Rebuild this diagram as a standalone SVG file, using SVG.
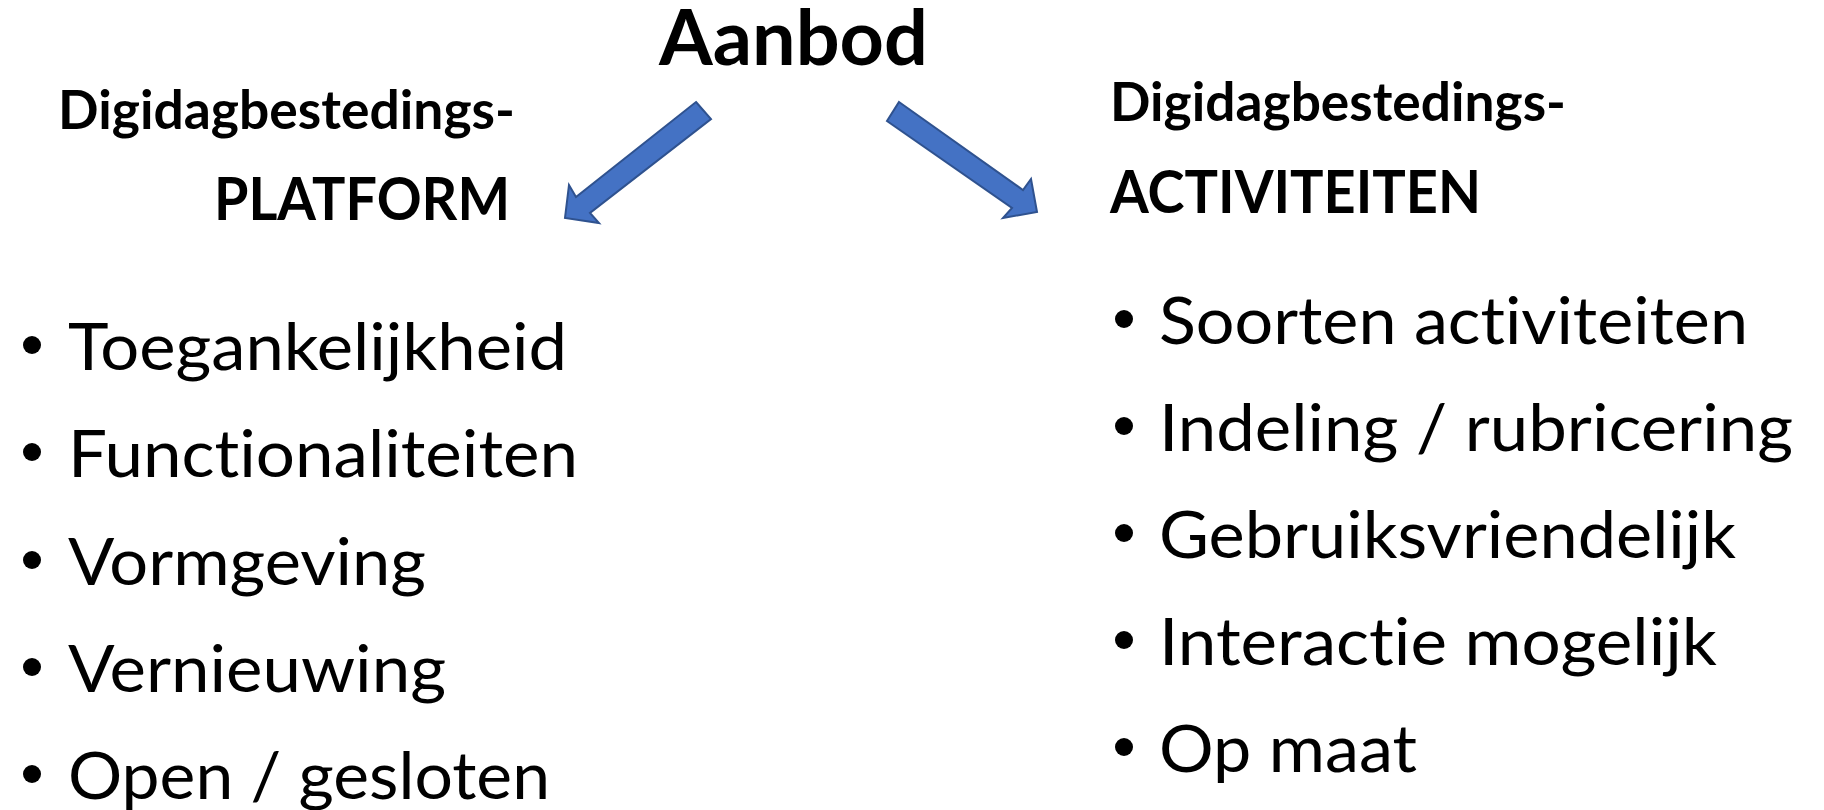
<svg xmlns="http://www.w3.org/2000/svg" width="1824" height="810" viewBox="0 0 1824 810">
  <style>
    text { font-family: Lato, "Open Sans", "Liberation Sans", sans-serif; fill: #000; font-variant-ligatures: none; font-feature-settings: "liga" 0, "clig" 0; }
    .title { font-size: 77px; font-weight: 700; }
    .sub { font-size: 53px; font-weight: 700; }
    .head { font-size: 59px; font-weight: 700; }
    .item { font-size: 66px; font-weight: 400; }
    .bullet { fill: #000; }
    .arrow { fill: #4472C4; stroke: #2F528F; stroke-width: 2; stroke-linejoin: miter; }
  </style>
  <rect width="1824" height="810" fill="#FFFFFF"/>

  <g id="connectors">
    <polygon class="arrow" points="696,102 711,119 590,213 599,223 565,218 569,185 576,197"/>
    <polygon class="arrow" points="899,102 1023,190 1031,179 1037,212 1003,218 1012,208 887,121"/>
  </g>

  <g id="node-aanbod">
    <text class="title" x="659" y="65" textLength="269" lengthAdjust="spacingAndGlyphs">Aanbod</text>
  </g>

  <g id="node-platform">
    <text class="sub" x="58" y="129" textLength="457" lengthAdjust="spacingAndGlyphs">Digidagbestedings-</text>
    <text class="head" x="214" y="220" textLength="296" lengthAdjust="spacingAndGlyphs">PLATFORM</text>
  </g>

  <g id="node-activiteiten">
    <text class="sub" x="1110" y="121" textLength="456" lengthAdjust="spacingAndGlyphs">Digidagbestedings-</text>
    <text class="head" x="1110" y="213" textLength="371" lengthAdjust="spacingAndGlyphs">ACTIVITEITEN</text>
  </g>

  <g id="node-platform-list">
    <circle class="bullet" cx="32" cy="345" r="9"/>
    <text class="item" x="68" y="370" textLength="499" lengthAdjust="spacingAndGlyphs">Toegankelijkheid</text>
    <circle class="bullet" cx="32" cy="452" r="9"/>
    <text class="item" x="68" y="477" textLength="510" lengthAdjust="spacingAndGlyphs">Functionaliteiten</text>
    <circle class="bullet" cx="32" cy="560" r="9"/>
    <text class="item" x="68" y="585" textLength="358" lengthAdjust="spacingAndGlyphs">Vormgeving</text>
    <circle class="bullet" cx="32" cy="667" r="9"/>
    <text class="item" x="68" y="692" textLength="378" lengthAdjust="spacingAndGlyphs">Vernieuwing</text>
    <circle class="bullet" cx="32" cy="774" r="9"/>
    <text class="item" x="68" y="799" textLength="482" lengthAdjust="spacingAndGlyphs">Open / gesloten</text>
  </g>

  <g id="node-activiteiten-list">
    <circle class="bullet" cx="1124" cy="319" r="9"/>
    <text class="item" x="1159" y="344" textLength="589" lengthAdjust="spacingAndGlyphs">Soorten activiteiten</text>
    <circle class="bullet" cx="1124" cy="426" r="9"/>
    <text class="item" x="1159" y="451" textLength="634" lengthAdjust="spacingAndGlyphs">Indeling / rubricering</text>
    <circle class="bullet" cx="1124" cy="533" r="9"/>
    <text class="item" x="1159" y="558" textLength="577" lengthAdjust="spacingAndGlyphs">Gebruiksvriendelijk</text>
    <circle class="bullet" cx="1124" cy="640" r="9"/>
    <text class="item" x="1159" y="665" textLength="558" lengthAdjust="spacingAndGlyphs">Interactie mogelijk</text>
    <circle class="bullet" cx="1124" cy="747" r="9"/>
    <text class="item" x="1159" y="772" textLength="258" lengthAdjust="spacingAndGlyphs">Op maat</text>
  </g>
</svg>
